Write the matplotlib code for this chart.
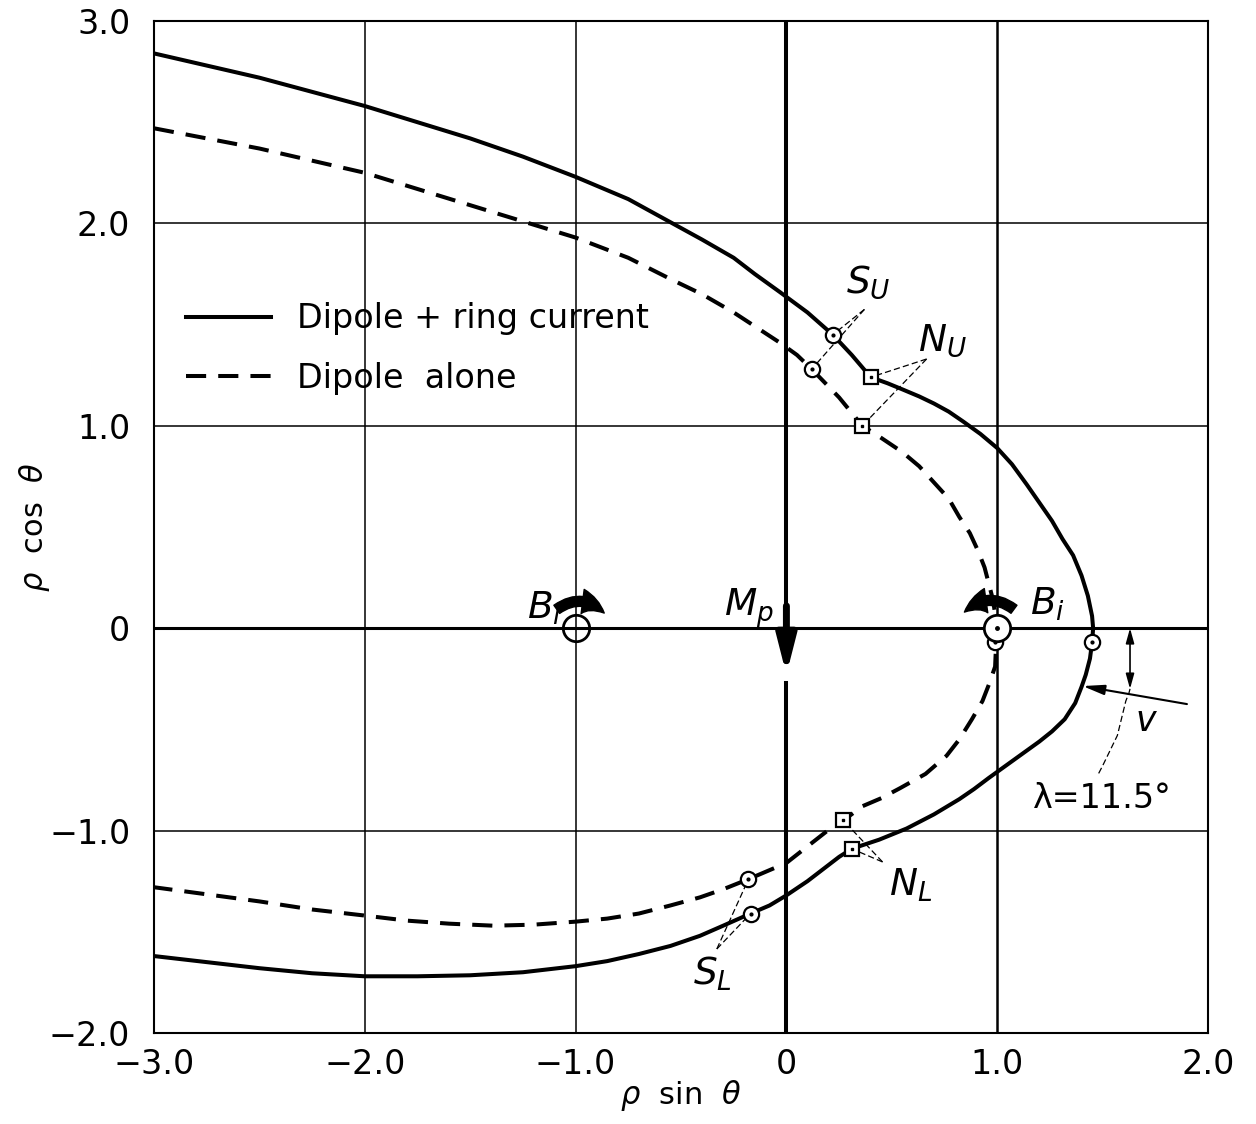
import numpy as np
import matplotlib.pyplot as plt
from matplotlib.patches import FancyArrowPatch

plt.rcParams['font.family'] = 'DejaVu Sans'
plt.rcParams['mathtext.fontset'] = 'dejavusans'

# field line traced with dipole + ring current (rho sin theta, rho cos theta)
ring_x = [-3.0, -2.75, -2.5, -2.25, -2.0, -1.75, -1.5, -1.25, -1.0, -0.75, -0.54,
          -0.40, -0.25, -0.15, -0.03, 0.10, 0.22, 0.31, 0.40,
          0.48, 0.55, 0.63, 0.70, 0.77, 0.84, 0.92, 1.00, 1.07, 1.14, 1.20, 1.26,
          1.31, 1.36, 1.40, 1.43, 1.45, 1.455, 1.45, 1.44, 1.42, 1.40, 1.37, 1.32,
          1.26, 1.20, 1.12, 1.04, 0.96, 0.89, 0.82, 0.70, 0.57, 0.44, 0.31,
          0.25, 0.20, 0.10, 0.0, -0.08, -0.17, -0.30, -0.41, -0.55, -0.70, -0.85,
          -1.0, -1.25, -1.5, -1.75, -2.0, -2.25, -2.5, -2.75, -3.0]
ring_y = [2.84, 2.78, 2.72, 2.65, 2.58, 2.50, 2.42, 2.33, 2.23, 2.12, 2.00,
          1.92, 1.83, 1.75, 1.66, 1.56, 1.45, 1.35, 1.24,
          1.21, 1.18, 1.145, 1.11, 1.07, 1.02, 0.96, 0.89, 0.81, 0.71, 0.62, 0.53,
          0.44, 0.36, 0.26, 0.16, 0.06, 0.0, -0.07, -0.15, -0.23, -0.29, -0.37, -0.45,
          -0.51, -0.56, -0.62, -0.68, -0.74, -0.795, -0.845, -0.92, -0.99, -1.045, -1.09,
          -1.13, -1.17, -1.25, -1.32, -1.37, -1.41, -1.47, -1.52, -1.57, -1.61, -1.645,
          -1.67, -1.70, -1.715, -1.72, -1.72, -1.705, -1.68, -1.65, -1.62]

# same line for the dipole alone
dip_x = [-3.0, -2.75, -2.5, -2.25, -2.0, -1.75, -1.5, -1.25, -1.0, -0.75, -0.54,
         -0.40, -0.25, -0.03, 0.05, 0.12, 0.25, 0.36,
         0.45, 0.55, 0.63, 0.70, 0.77, 0.82, 0.87, 0.91, 0.94, 0.96, 0.98, 0.99, 1.0,
         0.995, 0.99, 0.96, 0.93, 0.88, 0.82, 0.76, 0.66, 0.54, 0.45, 0.36, 0.27,
         0.22, 0.11, 0.0, -0.09, -0.18, -0.30, -0.41, -0.55, -0.70, -0.85, -1.0,
         -1.2, -1.39, -1.6, -1.8, -2.0, -2.25, -2.5, -2.75, -3.0]
dip_y = [2.47, 2.42, 2.37, 2.31, 2.25, 2.17, 2.09, 2.01, 1.93, 1.83, 1.72,
         1.65, 1.56, 1.41, 1.35, 1.28, 1.14, 1.00,
         0.94, 0.87, 0.80, 0.72, 0.64, 0.55, 0.47, 0.38, 0.30, 0.22, 0.14, 0.07, 0.0,
         -0.07, -0.19, -0.28, -0.36, -0.45, -0.55, -0.63, -0.72, -0.79, -0.84, -0.88, -0.95,
         -0.98, -1.07, -1.16, -1.20, -1.24, -1.29, -1.33, -1.37, -1.41, -1.435, -1.45,
         -1.465, -1.47, -1.46, -1.445, -1.42, -1.39, -1.35, -1.315, -1.28]

# S (circle) and N (square) points on each trace
s_x = [0.22, 0.12, -0.17, -0.18, 1.45, 0.99]
s_y = [1.45, 1.28, -1.41, -1.24, -0.07, -0.07]
n_x = [0.40, 0.36, 0.31, 0.27]
n_y = [1.24, 1.00, -1.09, -0.95]

# leader lines: label apex -> points
leaders = {
    'S_U': ((0.37, 1.575), [(0.22, 1.45), (0.12, 1.28)]),
    'N_U': ((0.665, 1.33), [(0.40, 1.24), (0.36, 1.00)]),
    'N_L': ((0.456, -1.155), [(0.31, -1.09), (0.27, -0.95)]),
    'S_L': ((-0.33, -1.585), [(-0.17, -1.41), (-0.18, -1.24)]),
}
label_pos = {'S_U': (0.39, 1.71), 'N_U': (0.74, 1.42),
             'N_L': (0.59, -1.27), 'S_L': (-0.35, -1.71)}

# lambda arc
lam_x = [1.63, 1.625, 1.61, 1.57, 1.50, 1.48]
lam_y = [-0.30, -0.32, -0.36, -0.53, -0.68, -0.72]

xticks = [-3, -2, -1, 0, 1, 2]
xtick_labels = ['\u22123.0', '\u22122.0', '\u22121.0', '0', '1.0', '2.0']
yticks = [-2, -1, 0, 1, 2, 3]
ytick_labels = ['\u22122.0', '\u22121.0', '0', '1.0', '2.0', '3.0']

fig = plt.figure(figsize=(12.56, 11.24), dpi=100)
ax = fig.add_axes([0.1226, 0.081, 0.8392, 0.9003])
ax.set_xlim(-3, 2)
ax.set_ylim(-2, 3)

# grid, with the axes through the origin drawn heavier
for xv in xticks:
    lw = {0: 2.9, 1: 1.8}.get(xv, 1.1)
    if xv == 0:
        ax.plot([0, 0], [3, 0.11], color='black', lw=lw, zorder=1)
        ax.plot([0, 0], [-0.27, -2], color='black', lw=lw, zorder=1)
    else:
        ax.axvline(xv, color='black', lw=lw, zorder=1)
for yv in yticks:
    ax.axhline(yv, color='black', lw=2.2 if yv == 0 else 1.1, zorder=1)

ax.plot(ring_x, ring_y, color='black', lw=2.9, solid_joinstyle='round',
        label='Dipole + ring current', zorder=3)
ax.plot(dip_x, dip_y, color='black', lw=2.9, dashes=(5, 3),
        label='Dipole  alone', zorder=3)

for key, (apex, pts) in leaders.items():
    for px, py in pts:
        ax.plot([apex[0], px], [apex[1], py], color='black', lw=0.9,
                dashes=(5, 2.5), zorder=4)
    lx, ly = label_pos[key]
    ax.text(lx, ly, '$%s_%s$' % (key[0], key[2]), fontsize=27,
            ha='center', va='center')

ax.plot(s_x, s_y, 'o', ms=11, mfc='white', mec='black', mew=1.6, zorder=5)
ax.plot(s_x, s_y, 'o', ms=2, color='black', zorder=6)
ax.plot(n_x, n_y, 's', ms=10, mfc='white', mec='black', mew=1.6, zorder=5)
ax.plot(n_x, n_y, 's', ms=2, color='black', zorder=6)

# B_i positions
ax.plot([-1], [0], 'o', ms=19, mfc='none', mec='black', mew=2, zorder=5)
ax.plot([1], [0], 'o', ms=19, mfc='white', mec='black', mew=2, zorder=7)
ax.plot([1], [0], 'o', ms=2.5, color='black', zorder=8)
ax.text(-1.15, 0.10, '$B_i$', fontsize=27, ha='center', va='center')
ax.text(1.24, 0.12, '$B_i$', fontsize=27, ha='center', va='center')

# rotation arrows over B_i
ax.add_patch(FancyArrowPatch((-1.10, 0.085), (-0.855, 0.065),
                             connectionstyle='arc3,rad=-0.45',
                             arrowstyle='simple,head_width=1.1,head_length=1.1,tail_width=0.45',
                             mutation_scale=16, color='black', zorder=8))
ax.add_patch(FancyArrowPatch((1.09, 0.085), (0.835, 0.07),
                             connectionstyle='arc3,rad=0.45',
                             arrowstyle='simple,head_width=1.1,head_length=1.1,tail_width=0.45',
                             mutation_scale=16, color='black', zorder=8))

# magnetic moment arrow
ax.annotate('', xy=(0, -0.23), xytext=(0, 0.11),
            arrowprops=dict(arrowstyle='-|>,head_width=0.28,head_length=1.1',
                            lw=5, color='black', mutation_scale=20, shrinkA=0, shrinkB=0),
            zorder=8)
ax.text(-0.18, 0.10, '$M_p$', fontsize=27, ha='center', va='center')

# latitude marker
ax.annotate('', xy=(1.63, -0.30), xytext=(1.63, 0.0),
            arrowprops=dict(arrowstyle='<|-|>,head_width=0.25,head_length=0.9',
                            lw=1.2, color='black', shrinkA=0, shrinkB=0))
ax.annotate('', xy=(1.405, -0.286), xytext=(1.90, -0.375),
            arrowprops=dict(arrowstyle='-|>,head_width=0.3,head_length=1.3',
                            lw=1.5, color='black', shrinkA=0, shrinkB=0))
ax.plot(lam_x, lam_y, color='black', lw=0.9, dashes=(5, 2.5))
ax.text(1.71, -0.46, '$v$', fontsize=25, ha='center', va='center')
ax.text(1.50, -0.84, '\u03bb=11.5\u00b0', fontsize=24, ha='center', va='center')

ax.legend(loc='upper left', bbox_to_anchor=(0.030, 0.722), frameon=False,
          fontsize=24, handlelength=2.55, handletextpad=0.8, labelspacing=0.8,
          borderpad=0, borderaxespad=0)

ax.set_xticks(xticks)
ax.set_xticklabels(xtick_labels)
ax.set_yticks(yticks)
ax.set_yticklabels(ytick_labels)
ax.tick_params(length=0, labelsize=24, pad=11)
ax.tick_params(axis='y', pad=17)
for s in ax.spines.values():
    s.set_linewidth(1.5)

ax.set_xlabel('$\\rho$  sin  $\\theta$', fontsize=22)
ax.set_ylabel('$\\rho$  cos  $\\theta$', fontsize=22)
ax.xaxis.set_label_coords(0.5, -0.062)
ax.xaxis.label.set_va('center')
ax.yaxis.set_label_coords(-0.113, 0.5)
ax.yaxis.label.set_va('center')

fig.savefig('out.png', dpi=100)
